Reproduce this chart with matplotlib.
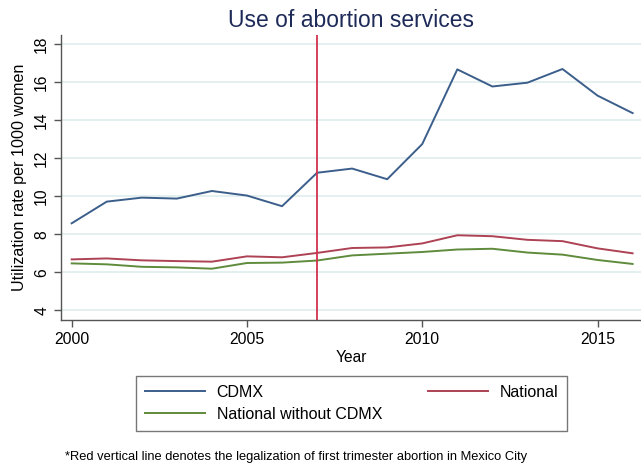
import numpy as np
import matplotlib
matplotlib.use("Agg")
import matplotlib.pyplot as plt

plt.rcParams['font.family'] = ['Liberation Sans', 'DejaVu Sans']

years = list(range(2000, 2017))
cdmx = [8.58, 9.72, 9.93, 9.88, 10.28, 10.04, 9.48, 11.24, 11.46, 10.90,
        12.75, 16.68, 15.78, 15.98, 16.70, 15.30, 14.38]
national = [6.68, 6.73, 6.63, 6.59, 6.56, 6.84, 6.79, 7.02, 7.28, 7.31,
            7.52, 7.95, 7.90, 7.71, 7.64, 7.26, 7.00]
national_wo = [6.47, 6.42, 6.29, 6.26, 6.19, 6.49, 6.51, 6.62, 6.89, 6.98,
               7.07, 7.20, 7.24, 7.04, 6.93, 6.65, 6.44]
legal_year = 2007
yticks = [4, 6, 8, 10, 12, 14, 16, 18]
xticks = [2000, 2005, 2010, 2015]

W, H = 641, 467
fig = plt.figure(figsize=(W / 100, H / 100), dpi=100)
ax = fig.add_axes([61 / W, 1 - 320 / H, (W - 61) / W, (320 - 35) / H])

ax.set_yticks(yticks)
ax.set_xticks(xticks)
ax.grid(axis="y", color="#e2eeee", linewidth=1.3)
ax.set_axisbelow(True)

l1, = ax.plot(years, cdmx, color="#3b5e8b", lw=1.4, label="CDMX")
l2, = ax.plot(years, national, color="#ad4254", lw=1.4, label="National")
l3, = ax.plot(years, national_wo, color="#5f8b3c", lw=1.4,
              label="National without CDMX")
ax.axvline(legal_year, color="#d2304e", lw=1.3)

ax.set_xlim(1999.695, 2016.24)
ax.set_ylim(3.49, 18.49)

for s in ["top", "right"]:
    ax.spines[s].set_visible(False)
for s in ["left", "bottom"]:
    ax.spines[s].set_color("#555555")
    ax.spines[s].set_linewidth(1.0)
ax.tick_params(colors="#555555", length=5, width=1.0, labelcolor="black",
               labelsize=11.3)
plt.setp(ax.get_yticklabels(), rotation=90, va="center")

ax.set_xlabel("Year", fontsize=11.2, labelpad=2)
ax.set_ylabel("Utilization rate per 1000 women", fontsize=11.6, labelpad=5)
ax.set_title("Use of abortion services", fontsize=16.5, color="#1e2b58",
             pad=6)

leg = fig.legend([l1, l3, l2], ["CDMX", "National without CDMX", "National"],
                 ncol=2, loc="upper left", bbox_to_anchor=(136 / W, 1 - 376 / H),
                 fontsize=11.5, frameon=True, fancybox=False,
                 edgecolor="#555555", handlelength=3.8, handletextpad=0.7,
                 columnspacing=2.85, labelspacing=0.45, borderpad=0.55,
                 borderaxespad=0)
leg.get_frame().set_linewidth(1.0)

fig.text(65 / W, 1 - 456.7 / H,
         "*Red vertical line denotes the legalization of first trimester abortion in Mexico City",
         fontsize=9.3, va="center", ha="left")

fig.savefig("out.png", dpi=100)
